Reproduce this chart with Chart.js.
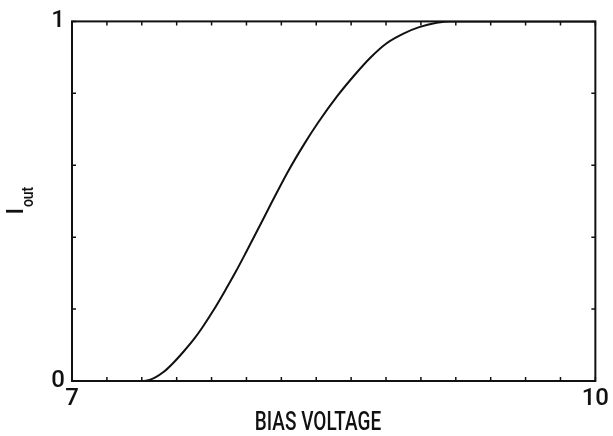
<!DOCTYPE html>
<html>
<head>
<meta charset="utf-8">
<script src="https://cdn.jsdelivr.net/npm/chart.js@4/dist/chart.umd.min.js"></script>
<style>
  html, body { margin: 0; padding: 0; background: #fff; }
  #wrap { width: 613px; height: 436px; }
</style>
</head>
<body>
<div id="wrap"><canvas id="chart"></canvas></div>
<script>
// values
const biasVoltage = [7.0, 7.41, 7.47, 7.53, 7.58, 7.64, 7.70, 7.75, 7.81, 7.87, 7.94, 8.00, 8.08, 8.14, 8.24, 8.33, 8.41, 8.52, 8.62, 8.71, 8.80, 8.90, 8.99, 9.09, 9.17, 10.0];
const iOut        = [0,   0,    0.008, 0.027, 0.05, 0.082, 0.117, 0.151, 0.196, 0.245, 0.305, 0.36, 0.435, 0.492, 0.584, 0.658, 0.718, 0.792, 0.851, 0.899, 0.938, 0.966, 0.984, 0.996, 1.0, 1.0];
const xTickLabels = [7, 10];
const yTickLabels = [0, 1];

const FONT = "Roboto, 'Liberation Sans Narrow', Arial, sans-serif";
const INK = '#111';

const pickLabel = list => v => {
  const hit = list.find(t => Math.abs(t - v) < 1e-6);
  return hit === undefined ? '' : String(hit);
};

// box frame, inward ticks on all four sides, axis titles
const frameTicks = {
  id: 'frameTicks',
  afterDraw(chart) {
    const { ctx, chartArea: a, scales: { x, y } } = chart;
    ctx.save();
    ctx.strokeStyle = INK;
    ctx.lineWidth = 2;
    ctx.strokeRect(a.left, a.top, a.right - a.left, a.bottom - a.top);

    ctx.lineWidth = 1.5;
    ctx.beginPath();
    x.ticks.forEach(t => {
      const px = x.getPixelForValue(t.value);
      ctx.moveTo(px, a.bottom); ctx.lineTo(px, a.bottom - 4);
      ctx.moveTo(px, a.top); ctx.lineTo(px, a.top + 4);
    });
    y.ticks.forEach(t => {
      const py = y.getPixelForValue(t.value);
      ctx.moveTo(a.left, py); ctx.lineTo(a.left + 4, py);
      ctx.moveTo(a.right, py); ctx.lineTo(a.right - 4, py);
    });
    ctx.stroke();

    ctx.fillStyle = INK;
    // x title, condensed, a bit left of centre as in the original
    ctx.save();
    ctx.font = '500 25px ' + FONT;
    ctx.textAlign = 'center';
    ctx.textBaseline = 'alphabetic';
    ctx.translate(318, 430);
    ctx.scale(0.76, 1);
    ctx.fillText('BIAS VOLTAGE', 0, 0);
    ctx.restore();

    // y title: I with "out" subscript, rotated
    ctx.font = '500 23px ' + FONT;
    const wI = ctx.measureText('I').width;
    ctx.font = '500 17px ' + FONT;
    const wOut = ctx.measureText('out').width * 0.82;
    const midY = (a.top + a.bottom) / 2;
    ctx.translate(23, midY + (wI + wOut) / 2);
    ctx.rotate(-Math.PI / 2);
    ctx.textAlign = 'left';
    ctx.font = '500 23px ' + FONT;
    ctx.fillText('I', 0, 0);
    ctx.font = '500 17px ' + FONT;
    ctx.translate(wI + 1, 10);
    ctx.scale(0.82, 1);
    ctx.fillText('out', 0, 0);
    ctx.restore();
  }
};

new Chart(document.getElementById('chart'), {
  type: 'line',
  data: {
    datasets: [{
      data: biasVoltage.map((v, i) => ({ x: v, y: iOut[i] })),
      borderColor: INK,
      borderWidth: 2,
      pointRadius: 0,
      cubicInterpolationMode: 'monotone',
      fill: false
    }]
  },
  options: {
    responsive: true,
    maintainAspectRatio: false,
    animation: false,
    layout: { padding: { top: 16, right: 12, left: 0, bottom: 0 } },
    plugins: { legend: { display: false }, tooltip: { enabled: false } },
    scales: {
      x: {
        type: 'linear', min: 7, max: 10,
        grid: { display: false, drawTicks: false },
        border: { display: false },
        ticks: { stepSize: 0.2, autoSkip: false, maxRotation: 0, padding: 4, color: INK,
                 font: { family: FONT, size: 24, weight: '500' }, callback: pickLabel(xTickLabels) },
        afterFit: s => { s.height = 55; }
      },
      y: {
        min: 0, max: 1,
        grid: { display: false, drawTicks: false },
        border: { display: false },
        ticks: { stepSize: 0.2, autoSkip: false, padding: 7, color: INK,
                 font: { family: FONT, size: 24, weight: '500' }, callback: pickLabel(yTickLabels) },
        afterFit: s => { s.width = 72; }
      }
    }
  },
  plugins: [frameTicks]
});
</script>
</body>
</html>
